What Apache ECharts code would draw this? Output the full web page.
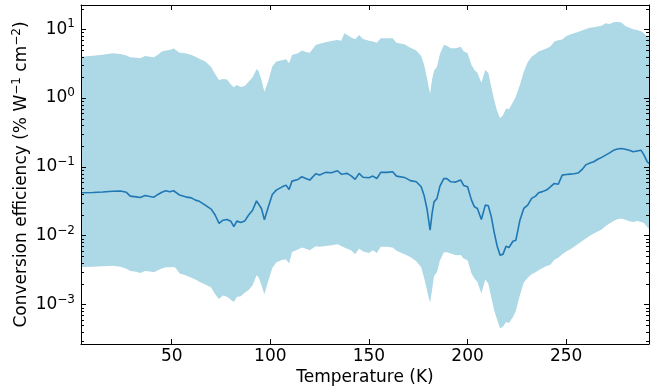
<!DOCTYPE html>
<html><head><meta charset="utf-8">
<script src="https://cdn.jsdelivr.net/npm/echarts@6/dist/echarts.min.js"></script>
<style>html,body{margin:0;padding:0;background:#fff}#c{width:661px;height:389px}</style>
</head><body><div id="c"></div>
<script>
// Temperature (K)
const temperatures = [4,10,15,20,24,27,29,32,34,36.5,
  39,41,43,45,47,49,51,52,54,57,
  60,62,64,67,70,72,74,76,78,80,
  81.5,83,85,87,89,91,93,94,95.5,97,
  99,101,103,106,108,109.5,111,114,116,118,
  120,123,125,128,131,134,136,137.5,139,141,
  143,145,147,150,152,154,156,159,162,164,
  168,171,174,176.5,178,179.5,181,182,183,184.5,
  186,188,189.5,191.5,194,196.5,198,200,202,203.5,
  205,207,209,210.5,212,213.5,215,216.5,218,219.5,
  221,223,224.5,226.5,228.5,230.5,232.5,234.5,236,238,
  240,242,244,246,248,250,252,254,256,258,
  260,262,264,266,268,270,272,274,276,278,
  280,282,284,286,288,289.5,291,292];
// Mean conversion efficiency (% W^-1 cm^-2)
const meanEfficiency = [0.0420,0.0425,0.0432,0.0442,0.0445,0.0427,0.0376,0.0367,0.0360,0.0385,
  0.0372,0.0363,0.0398,0.0427,0.0450,0.0435,0.0450,0.0427,0.0389,0.0367,
  0.0355,0.0329,0.0316,0.0278,0.0243,0.0200,0.0151,0.0168,0.0172,0.0162,
  0.0135,0.0163,0.0155,0.0163,0.0200,0.0234,0.0321,0.0316,0.0249,0.0170,
  0.0263,0.0398,0.0460,0.0513,0.0543,0.0470,0.0621,0.0658,0.0718,0.0676,
  0.0643,0.0794,0.0760,0.0832,0.0822,0.0879,0.0785,0.0794,0.0804,0.0741,
  0.0658,0.0804,0.0708,0.0695,0.0735,0.0679,0.0832,0.0832,0.0849,0.0735,
  0.0703,0.0631,0.0608,0.0514,0.0380,0.0240,0.0120,0.0209,0.0310,0.0348,
  0.0525,0.0679,0.0676,0.0608,0.0601,0.0646,0.0537,0.0513,0.0329,0.0263,
  0.0249,0.0172,0.0278,0.0272,0.0191,0.0112,0.00708,0.00521,0.00540,0.00705,
  0.00675,0.00832,0.00861,0.0166,0.0249,0.0278,0.0348,0.0376,0.0420,0.0437,
  0.0460,0.0513,0.0575,0.0560,0.0759,0.0776,0.0785,0.0794,0.0813,0.0912,
  0.107,0.1135,0.1186,0.129,0.1374,0.148,0.160,0.174,0.182,0.185,
  0.180,0.174,0.166,0.170,0.174,0.148,0.120,0.112];
// Upper edge of the shaded range
const upperEfficiency = [3.99,4.12,4.27,4.48,4.37,4.17,3.92,3.85,3.78,4.09,
  3.98,3.92,4.27,4.73,4.90,5.00,5.25,5.01,4.57,4.48,
  4.23,3.98,3.72,3.39,2.82,2.24,1.83,1.89,1.86,1.58,
  1.43,1.55,1.45,1.50,1.73,2.00,2.62,2.50,1.83,1.24,
  1.78,2.88,3.39,3.55,3.66,3.20,4.23,4.48,4.89,4.68,
  4.57,5.92,6.17,6.46,6.76,6.98,6.82,8.73,8.26,7.59,
  7.14,8.26,7.24,6.82,6.61,6.38,7.40,7.40,7.41,6.38,
  6.04,5.37,4.90,4.07,3.02,1.91,1.15,1.86,2.50,2.86,
  4.37,5.92,5.75,5.30,5.30,5.58,4.79,4.48,3.03,2.56,
  2.34,1.67,2.56,2.34,1.46,0.938,0.646,0.507,0.562,0.708,
  0.685,0.871,1.05,1.55,2.42,3.31,3.98,4.37,4.73,5.01,
  5.25,5.62,6.61,6.92,7.08,7.94,8.41,8.73,9.12,9.55,
  10.1,10.5,10.7,11.0,11.2,12.2,11.9,12.6,12.9,12.5,
  11.1,10.5,10.0,9.77,9.33,8.71,7.76,7.41];
// Lower edge of the shaded range
const lowerEfficiency = [0.00352,0.00355,0.00359,0.00365,0.00355,0.00331,0.00308,0.00299,0.00288,0.00308,
  0.00302,0.00295,0.00316,0.00333,0.00347,0.00347,0.00352,0.00339,0.00282,0.00267,
  0.00245,0.00232,0.00214,0.00195,0.00177,0.00141,0.00120,0.00135,0.00130,0.00117,
  0.00109,0.00129,0.00132,0.00148,0.00162,0.00191,0.00267,0.00252,0.00191,0.00141,
  0.00224,0.00339,0.00407,0.00447,0.00452,0.00394,0.00582,0.00631,0.00675,0.00646,
  0.00617,0.00705,0.00692,0.00708,0.00729,0.00753,0.00708,0.00675,0.00646,0.00617,
  0.00540,0.00652,0.00589,0.00562,0.00617,0.00560,0.00689,0.00689,0.00676,0.00603,
  0.00540,0.00490,0.00427,0.00347,0.00240,0.00158,0.00105,0.00162,0.00258,0.00298,
  0.00437,0.00575,0.00575,0.00551,0.00521,0.00525,0.00468,0.00441,0.00282,0.00239,
  0.00213,0.00145,0.00231,0.00202,0.00129,0.000826,0.000603,0.000447,0.000479,0.000558,
  0.000537,0.000661,0.000813,0.00135,0.00209,0.00245,0.00275,0.00295,0.00316,0.00339,
  0.00363,0.00380,0.00447,0.00479,0.00537,0.00589,0.00631,0.00689,0.00759,0.00832,
  0.00912,0.0100,0.0108,0.0115,0.0123,0.0138,0.0151,0.0164,0.0174,0.0178,
  0.0170,0.0162,0.0158,0.0164,0.0158,0.0153,0.0135,0.0126];
// Axis ranges and ticks
const xRange = [4, 292];
const yRange = [2.67e-4, 22.5];
const yMinorTicks = [3e-4,4e-4,5e-4,6e-4,7e-4,8e-4,9e-4,
  2e-3,3e-3,4e-3,5e-3,6e-3,7e-3,8e-3,9e-3,
  2e-2,3e-2,4e-2,5e-2,6e-2,7e-2,8e-2,9e-2,
  0.2,0.3,0.4,0.5,0.6,0.7,0.8,0.9,
  2,3,4,5,6,7,8,9,20];

const FONT = 'DejaVu Sans';
const FS = 17;
const chart = echarts.init(document.getElementById('c'), null, {renderer: 'canvas'});

const bandData = temperatures.map((t, i) => [t, upperEfficiency[i]])
  .concat(temperatures.map((t, i) => [t, lowerEfficiency[i]]).reverse());
const meanData = temperatures.map((t, i) => [t, meanEfficiency[i]]);

function powLabel(v) {
  const e = Math.log10(v);
  const r = Math.round(e);
  if (Math.abs(e - r) > 1e-6) return '';
  return '{b|10}{s|' + (r < 0 ? '\u2212' + (-r) : String(r)) + '}';
}

const axisLineStyle = {lineStyle: {color: '#000', width: 1}};
const tickStyle = {inside: true, length: 5, lineStyle: {color: '#000', width: 1}};

chart.setOption({
  animation: false,
  backgroundColor: '#fff',
  grid: {left: 81, right: 12, top: 5, bottom: 45, containLabel: false, outerBoundsMode: 'none'},
  xAxis: [
    {type: 'value', min: xRange[0], max: xRange[1], position: 'bottom', z: 4,
     axisLine: axisLineStyle, axisTick: tickStyle, splitLine: {show: false},
     axisLabel: {fontFamily: FONT, fontSize: FS, color: '#000', margin: 4,
       formatter: v => (v % 50 === 0 ? String(v) : '')},
     name: 'Temperature (K)', nameLocation: 'middle', nameGap: 25, nameMoveOverlap: false,
     nameTextStyle: {fontFamily: FONT, fontSize: FS, color: '#000'}},
    {type: 'value', min: xRange[0], max: xRange[1], position: 'top', z: 4,
     axisLine: axisLineStyle, axisTick: tickStyle, splitLine: {show: false},
     axisLabel: {show: false}}
  ],
  yAxis: [
    {type: 'log', min: yRange[0], max: yRange[1], logBase: 10, position: 'left', z: 4,
     axisLine: axisLineStyle, axisTick: tickStyle, splitLine: {show: false},
     axisLabel: {margin: 6, formatter: powLabel,
       rich: {
         b: {fontFamily: FONT, fontSize: FS, color: '#000', lineHeight: 22, verticalAlign: 'middle'},
         s: {fontFamily: FONT, fontSize: 12, color: '#000', lineHeight: 12, verticalAlign: 'top'}
       }},
     name: '{n|Conversion efficiency (% W}{s|\u22121}{n| cm}{s|\u22122}{n|)}',
     nameLocation: 'middle', nameGap: 48, nameMoveOverlap: false,
     nameTextStyle: {
       rich: {
         n: {fontFamily: FONT, fontSize: FS, color: '#000', lineHeight: 22, verticalAlign: 'middle'},
         s: {fontFamily: FONT, fontSize: 12, color: '#000', lineHeight: 12, verticalAlign: 'top'}
       }}},
    {type: 'log', min: yRange[0], max: yRange[1], logBase: 10, position: 'right', z: 4,
     axisLine: axisLineStyle, axisTick: tickStyle, splitLine: {show: false},
     axisLabel: {show: false}}
  ],
  series: [
    {type: 'custom', name: 'range', xAxisIndex: 0, yAxisIndex: 0, z: 1, silent: true,
     data: bandData,
     renderItem: function (params, api) {
       if (params.dataIndex !== 0) return null;
       const pts = bandData.map(d => api.coord(d));
       return {type: 'polygon', shape: {points: pts}, style: {fill: '#add8e6', stroke: null}};
     }},
    {type: 'line', name: 'mean', xAxisIndex: 0, yAxisIndex: 0, z: 3,
     data: meanData, showSymbol: false, symbol: 'none',
     lineStyle: {color: '#1f77b4', width: 1.6}},
    {type: 'custom', name: 'minorTicks', xAxisIndex: 0, yAxisIndex: 0, z: 6, silent: true,
     data: yMinorTicks.map(v => [xRange[0], v]),
     renderItem: function (params, api) {
       const v = api.value(1);
       const pl = api.coord([xRange[0], v]);
       const pr = api.coord([xRange[1], v]);
       const y = Math.round(pl[1]) + 0.5;
       return {type: 'group', children: [
         {type: 'line', shape: {x1: pl[0], y1: y, x2: pl[0] + 3, y2: y}, style: {stroke: '#000', lineWidth: 1}},
         {type: 'line', shape: {x1: pr[0] - 3, y1: y, x2: pr[0], y2: y}, style: {stroke: '#000', lineWidth: 1}}
       ]};
     }}
  ]
});
</script>
</body></html>
